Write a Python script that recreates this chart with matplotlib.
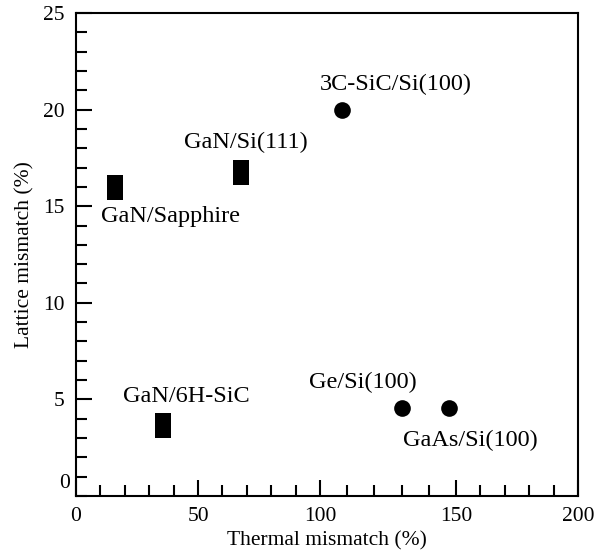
import numpy as np
import matplotlib
matplotlib.use("Agg")
import matplotlib.pyplot as plt
from matplotlib.path import Path
from matplotlib.ticker import MultipleLocator, FixedLocator

# ---- data ----
labels = ["GaN/Sapphire", "GaN/Si(111)", "3C-SiC/Si(100)", "GaN/6H-SiC", "Ge/Si(100)", "GaAs/Si(100)"]
thermal = [16.0, 67.7, 108.0, 35.6, 130.3, 147.3]
lattice = [16.0, 16.75, 20.0, 3.67, 4.57, 4.57]
shapes = ["rect", "rect", "circle", "rect", "circle", "circle"]
x_ticks = [0, 50, 100, 150, 200]
y_ticks = [5, 10, 15, 20, 25]

# label offsets in pixels (style / layout)
offsets = [(55, -30), (5, 30), (54, 25), (23, 29), (-40, 25), (22, -33)]

plt.rcParams['font.family'] = ['Liberation Serif', 'DejaVu Serif']

# piecewise-linear x scale (the original axis is not uniform)
xk = np.array([0.0, 100.0, 150.0, 200.0])
pk = np.array([0.0, 244.0, 379.7, 501.7])

def fwd(x):
    x = np.asarray(x, dtype=float)
    out = np.interp(x, xk, pk)
    lo = x < xk[0]
    hi = x > xk[-1]
    out = np.where(lo, pk[0] + (x - xk[0]) * (pk[1] - pk[0]) / (xk[1] - xk[0]), out)
    out = np.where(hi, pk[-1] + (x - xk[-1]) * (pk[-1] - pk[-2]) / (xk[-1] - xk[-2]), out)
    return out

def inv(p):
    p = np.asarray(p, dtype=float)
    out = np.interp(p, pk, xk)
    lo = p < pk[0]
    hi = p > pk[-1]
    out = np.where(lo, xk[0] + (p - pk[0]) * (xk[1] - xk[0]) / (pk[1] - pk[0]), out)
    out = np.where(hi, xk[-1] + (p - pk[-1]) * (xk[-1] - xk[-2]) / (pk[-1] - pk[-2]), out)
    return out

fig = plt.figure(figsize=(5.99, 5.56), dpi=100)
ax = fig.add_axes([76 / 599, 1 - 496 / 556, (578 - 76) / 599, (496 - 13) / 556])
ax.set_xscale('function', functions=(fwd, inv))
ax.set_xlim(0, 200)
ax.set_ylim(0, 25)

rect_marker = Path([(-0.32, -0.5), (0.32, -0.5), (0.32, 0.5), (-0.32, 0.5), (-0.32, -0.5)],
                   [Path.MOVETO, Path.LINETO, Path.LINETO, Path.LINETO, Path.CLOSEPOLY])

for lab, x, y, s, (dx, dy) in zip(labels, thermal, lattice, shapes, offsets):
    if s == "rect":
        ax.plot([x], [y], linestyle='none', marker=rect_marker, markersize=18,
                color='black', markeredgewidth=0)
    else:
        ax.plot([x], [y], linestyle='none', marker='o', markersize=12,
                color='black', markeredgewidth=0)
    ax.annotate(lab, (x, y), xytext=(dx, dy), textcoords='offset pixels',
                ha='center', va='center', fontsize=17.5)

for side in ['left', 'bottom', 'top', 'right']:
    ax.spines[side].set_linewidth(1.5)

ax.xaxis.set_major_locator(FixedLocator(x_ticks))
ax.xaxis.set_minor_locator(FixedLocator(np.arange(10, 200, 10)))
ax.yaxis.set_major_locator(FixedLocator(y_ticks))
ax.yaxis.set_minor_locator(MultipleLocator(1))
ax.tick_params(which='both', direction='in', top=False, right=False, width=1.5,
               labelsize=15.5, pad=8)
ax.tick_params(which='major', length=11.5)
ax.tick_params(which='minor', length=8)

# the '0' label on y sits slightly above the bottom spine in the original
ax.text(-0.012, 0.026, "0", transform=ax.transAxes, ha='right', va='center', fontsize=15.5)

ax.set_xlabel("Thermal mismatch (%)", fontsize=15.5, labelpad=4)
ax.set_ylabel("Lattice mismatch (%)", fontsize=15.5, labelpad=6)

fig.savefig("out.png", dpi=100)
